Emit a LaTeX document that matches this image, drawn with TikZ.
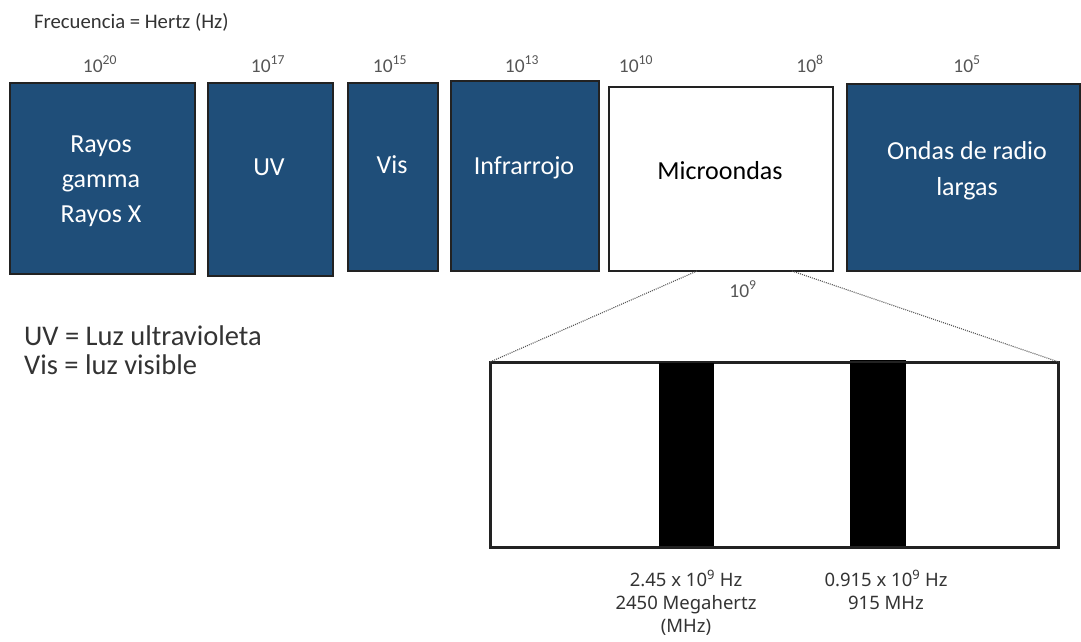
\documentclass[tikz,border=0pt]{standalone}
\usepackage{fontspec}
\setmainfont{Carlito}
\newfontfamily\robo{Noto Sans}
\definecolor{boxblue}{HTML}{1F4E79}
\definecolor{edge}{HTML}{222222}
\definecolor{numgray}{HTML}{555555}
\definecolor{txtgray}{HTML}{333333}
\tikzset{
  bluebox/.style={draw=edge, line width=2.4pt, fill=boxblue, anchor=north west, inner sep=0pt},
  whitebox/.style={draw=edge, line width=2.4pt, fill=white, anchor=north west, inner sep=0pt},
  boxtext/.style={font=\fontsize{26}{35}\selectfont, align=center, inner sep=0pt, anchor=base},
  exp/.style={font=\fontsize{19.5}{22}\selectfont, text=numgray, inner sep=0pt, anchor=base},
  bottomlab/.style={font=\robo\fontsize{18.5}{23}\selectfont, text=txtgray, inner sep=0pt, anchor=base},
  legend/.style={font=\fontsize{28.5}{32}\selectfont, text=txtgray, anchor=base west, inner sep=0pt},
  zoomline/.style={numgray, line width=1.1pt, dash pattern=on 1pt off 1.1pt},
  bar/.style={fill=black, draw=none, anchor=north west, inner sep=0pt}
}
\begin{document}
\begin{tikzpicture}[x=1pt,y=-1pt]
\useasboundingbox (0,0) rectangle (1081,641);
% header
\node[font=\fontsize{20.7}{24}\selectfont, text=txtgray, anchor=base west, inner sep=0pt] (title) at (34,28) {Frecuencia = Hertz (Hz)};
% boxes
\node[bluebox, minimum width=185, minimum height=191] (gamma) at (9,82) {};
\node[bluebox, minimum width=125, minimum height=193] (uv) at (207,82) {};
\node[bluebox, minimum width=90, minimum height=188] (vis) at (347,82) {};
\node[bluebox, minimum width=148, minimum height=190] (ir) at (450,80) {};
\node[whitebox, minimum width=224, minimum height=184] (micro) at (608,86) {};
\node[bluebox, minimum width=233, minimum height=187] (radio) at (846,83) {};
% box texts
\node[boxtext, text=white] (tgamma) at (101,222) {Rayos\\gamma\\Rayos X};
\node[boxtext, text=white] (tuv) at (269,175) {UV};
\node[boxtext, text=white] (tvis) at (392,173) {Vis};
\node[boxtext, text=white] (tir) at (524,174) {Infrarrojo};
\node[boxtext, text=black] (tmicro) at (720,179) {Microondas};
\node[boxtext, text=white, font=\fontsize{26}{36}\selectfont] (tradio) at (967,195) {Ondas de radio\\largas};
% exponents
\node[exp] (e20) at (100,72) {10\textsuperscript{20}};
\node[exp] (e17) at (268,72) {10\textsuperscript{17}};
\node[exp] (e15) at (390,72) {10\textsuperscript{15}};
\node[exp] (e13) at (522,72) {10\textsuperscript{13}};
\node[exp] (e10) at (636,72) {10\textsuperscript{10}};
\node[exp] (e8) at (810,72) {10\textsuperscript{8}};
\node[exp] (e5) at (967,72) {10\textsuperscript{5}};
\node[exp] (e9) at (743,297) {10\textsuperscript{9}};
% legend
\node[legend] (leg1) at (24,345) {UV = Luz ultravioleta};
\node[legend] (leg2) at (24,374) {Vis = luz visible};
% zoom box
\node[draw=edge, line width=1.8pt, fill=white, anchor=north west, inner sep=0pt, minimum width=567, minimum height=184] (zoom) at (490,362) {};
\node[bar, minimum width=55, minimum height=184] (b1) at (659,362) {};
\node[bar, minimum width=56, minimum height=186] (b2) at (850,360) {};
\draw[edge, line width=1.8pt] (zoom.north west) rectangle (zoom.south east);
\coordinate (m1) at (697,271);
\coordinate (m2) at (792,271);
\draw[zoomline] (m1) -- (zoom.north west);
\draw[zoomline] (m2) -- (zoom.north east);
% bottom labels
\node[bottomlab] (l1) at (686,586) {2.45 x 10\textsuperscript{9} Hz};
\node[bottomlab] (l2) at (686,609) {2450 Megahertz};
\node[bottomlab] (l3) at (686,632) {(MHz)};
\node[bottomlab] (l4) at (886,586) {0.915 x 10\textsuperscript{9} Hz};
\node[bottomlab] (l5) at (886,609) {915 MHz};
\end{tikzpicture}
\end{document}
